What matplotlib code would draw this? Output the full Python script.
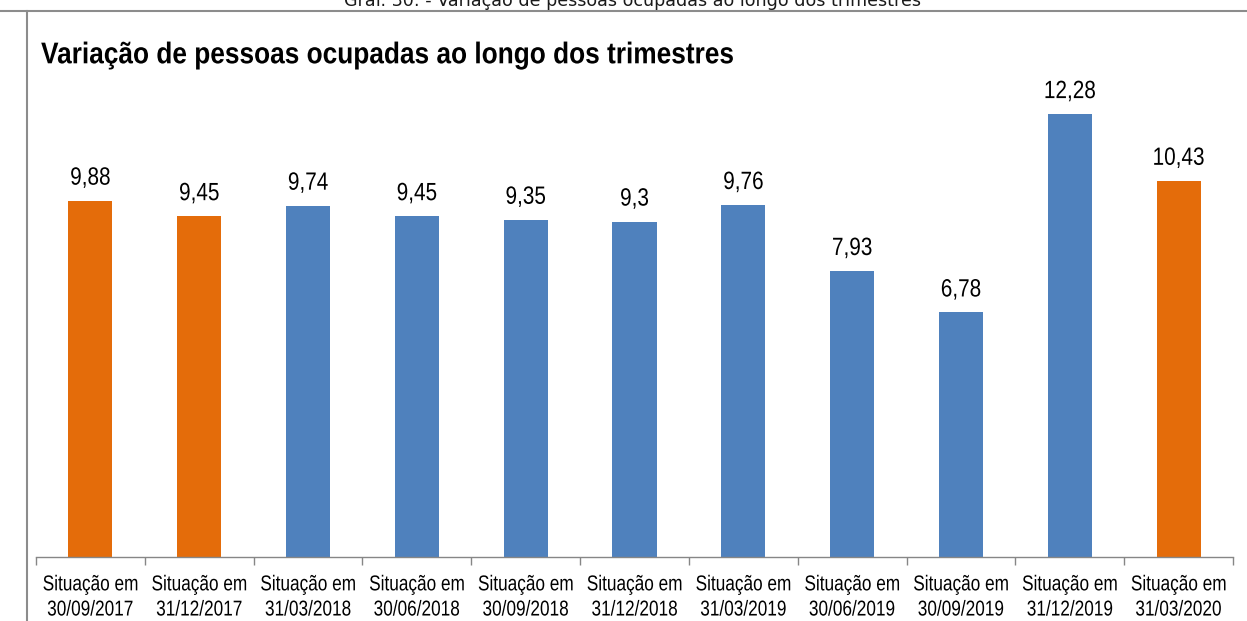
import matplotlib
matplotlib.use("Agg")
import matplotlib.pyplot as plt
from matplotlib.lines import Line2D
from matplotlib.patheffects import AbstractPathEffect
from matplotlib.transforms import Affine2D

categories = ["Situação em\n30/09/2017", "Situação em\n31/12/2017", "Situação em\n31/03/2018",
              "Situação em\n30/06/2018", "Situação em\n30/09/2018", "Situação em\n31/12/2018",
              "Situação em\n31/03/2019", "Situação em\n30/06/2019", "Situação em\n30/09/2019",
              "Situação em\n31/12/2019", "Situação em\n31/03/2020"]
values = [9.88, 9.45, 9.74, 9.45, 9.35, 9.3, 9.76, 7.93, 6.78, 12.28, 10.43]
value_labels = ["9,88", "9,45", "9,74", "9,45", "9,35", "9,3", "9,76", "7,93", "6,78", "12,28", "10,43"]
highlight = [True, True, False, False, False, False, False, False, False, False, True]
title = "Variação de pessoas ocupadas ao longo dos trimestres"
caption = "Gráf. 30: - Variação de pessoas ocupadas ao longo dos trimestres"

ORANGE = "#E46C0A"
BLUE = "#4F81BD"

plt.rcParams['font.family'] = ['Liberation Sans', 'DejaVu Sans']


class HStretch(AbstractPathEffect):
    """Draw the text narrower than its font size (condensed look of the reference)."""
    def __init__(self, sx, anchor="center"):
        super().__init__()
        self.sx = sx
        self.anchor = anchor

    def draw_path(self, renderer, gc, tpath, affine, rgbFace=None):
        ext = affine.transform_path(tpath).get_extents()
        cx = ext.x0 if self.anchor == "left" else 0.5 * (ext.x0 + ext.x1)
        new_aff = affine + Affine2D().translate(-cx, 0).scale(self.sx, 1).translate(cx, 0)
        renderer.draw_path(gc, tpath, new_aff, rgbFace)


W, H = 1247, 621
fig = plt.figure(figsize=(W / 100, H / 100), dpi=100)

ax = fig.add_axes([36 / W, (H - 557) / H, (1233 - 36) / W, 14 * 36.07 / H])
x = list(range(len(values)))
colors = [ORANGE if h else BLUE for h in highlight]
ax.bar(x, values, width=0.405, color=colors, zorder=2)
for xi, v, lab in zip(x, values, value_labels):
    t = ax.annotate(lab, (xi, v), xytext=(0, 11.5), textcoords="offset points",
                    ha="center", va="baseline", fontsize=18, color="#000000")
    t.set_path_effects([HStretch(0.83)])

ax.set_xlim(-0.5, len(values) - 0.5)
ax.set_ylim(0, 14)
for s in ["top", "right", "left"]:
    ax.spines[s].set_visible(False)
ax.spines["bottom"].set_color("#868686")
ax.spines["bottom"].set_linewidth(1.0)
ax.set_yticks([])
ax.set_xticks([i - 0.5 for i in range(len(values) + 1)], minor=False)
ax.set_xticklabels([])
ax.tick_params(axis="x", which="major", length=6, color="#868686", width=1.0, direction="out")
ax.set_xticks(x, minor=True)
ax.set_xticklabels(categories, minor=True, fontsize=15.5, linespacing=1.26)
ax.tick_params(axis="x", which="minor", length=0, pad=12.5)
for lbl in ax.get_xticklabels(minor=True):
    lbl.set_path_effects([HStretch(0.80)])

# title
tt = fig.text(41 / W, 1 - 63.3 / H, title,
              fontsize=21.6, fontweight="bold", ha="left", va="baseline")
tt.set_path_effects([HStretch(0.875, anchor="left")])

# frame lines
fig.add_artist(Line2D([0, 1], [1 - 11 / H, 1 - 11 / H], transform=fig.transFigure,
                      color="#8C8C8C", linewidth=1.5))
fig.add_artist(Line2D([27 / W, 27 / W], [0, 1 - 11 / H], transform=fig.transFigure,
                      color="#8C8C8C", linewidth=1.5))

# caption at the top edge (cropped at the top in the reference)
fig.text(632 / W, 1 - 6.5 / H, caption,
         fontsize=12.6, ha="center", va="baseline", family=["DejaVu Sans"], color="#1a1a1a")

fig.savefig("out.png", dpi=100)
